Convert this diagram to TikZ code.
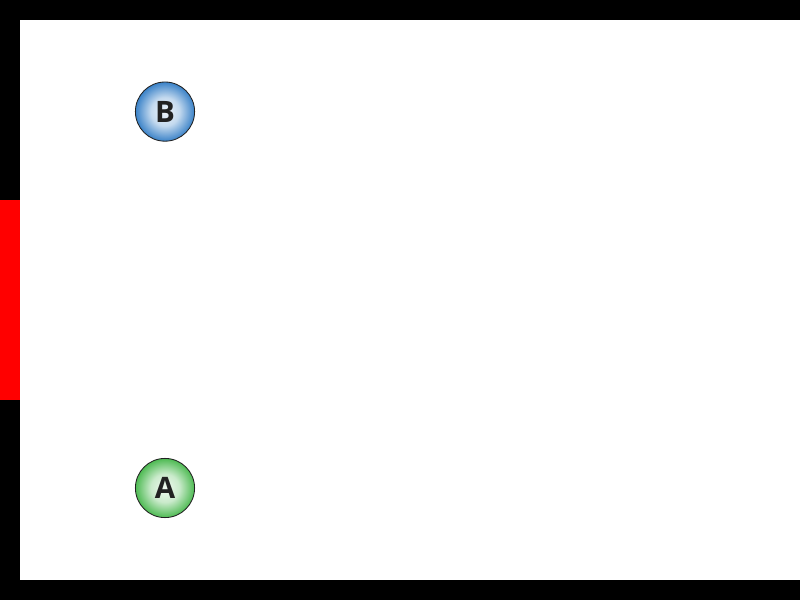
\documentclass[tikz,border=0pt]{standalone}
\usepackage{fontspec}
\setmainfont{Open Sans}
\usepackage{xcolor}
\usepackage{tikz}
\usetikzlibrary{positioning}
\definecolor{BallBlue}{HTML}{3A82C8}
\definecolor{BallGreen}{HTML}{4DBA52}
\definecolor{InkDark}{HTML}{222222}
\definecolor{EdgeRed}{HTML}{FF0000}
\pgfdeclareradialshading{blueball}{\pgfpoint{0bp}{0bp}}{%
  color(0bp)=(white!92!BallBlue); color(12bp)=(white!70!BallBlue);
  color(25bp)=(BallBlue); color(50bp)=(BallBlue)}
\pgfdeclareradialshading{greenball}{\pgfpoint{0bp}{0bp}}{%
  color(0bp)=(white!92!BallGreen); color(12bp)=(white!70!BallGreen);
  color(25bp)=(BallGreen); color(50bp)=(BallGreen)}
\tikzset{
  ball/.style={circle,draw=InkDark,line width=0.6pt,minimum size=1.48cm,inner sep=0pt,
    font=\fontsize{21}{22}\selectfont\bfseries,text=InkDark}}

\begin{document}
\begin{tikzpicture}
  \fill[black](0,0) rectangle (20,15);
  \fill[EdgeRed](0,5) rectangle (0.5,10);
  \fill[white](0.5,0.5) rectangle (20,14.5);
  \node[ball,shading=blueball] (b) at (4.125,12.21){B};
  \node[ball,shading=greenball] (a) at (4.125,2.8){A};
\end{tikzpicture}
\end{document}
